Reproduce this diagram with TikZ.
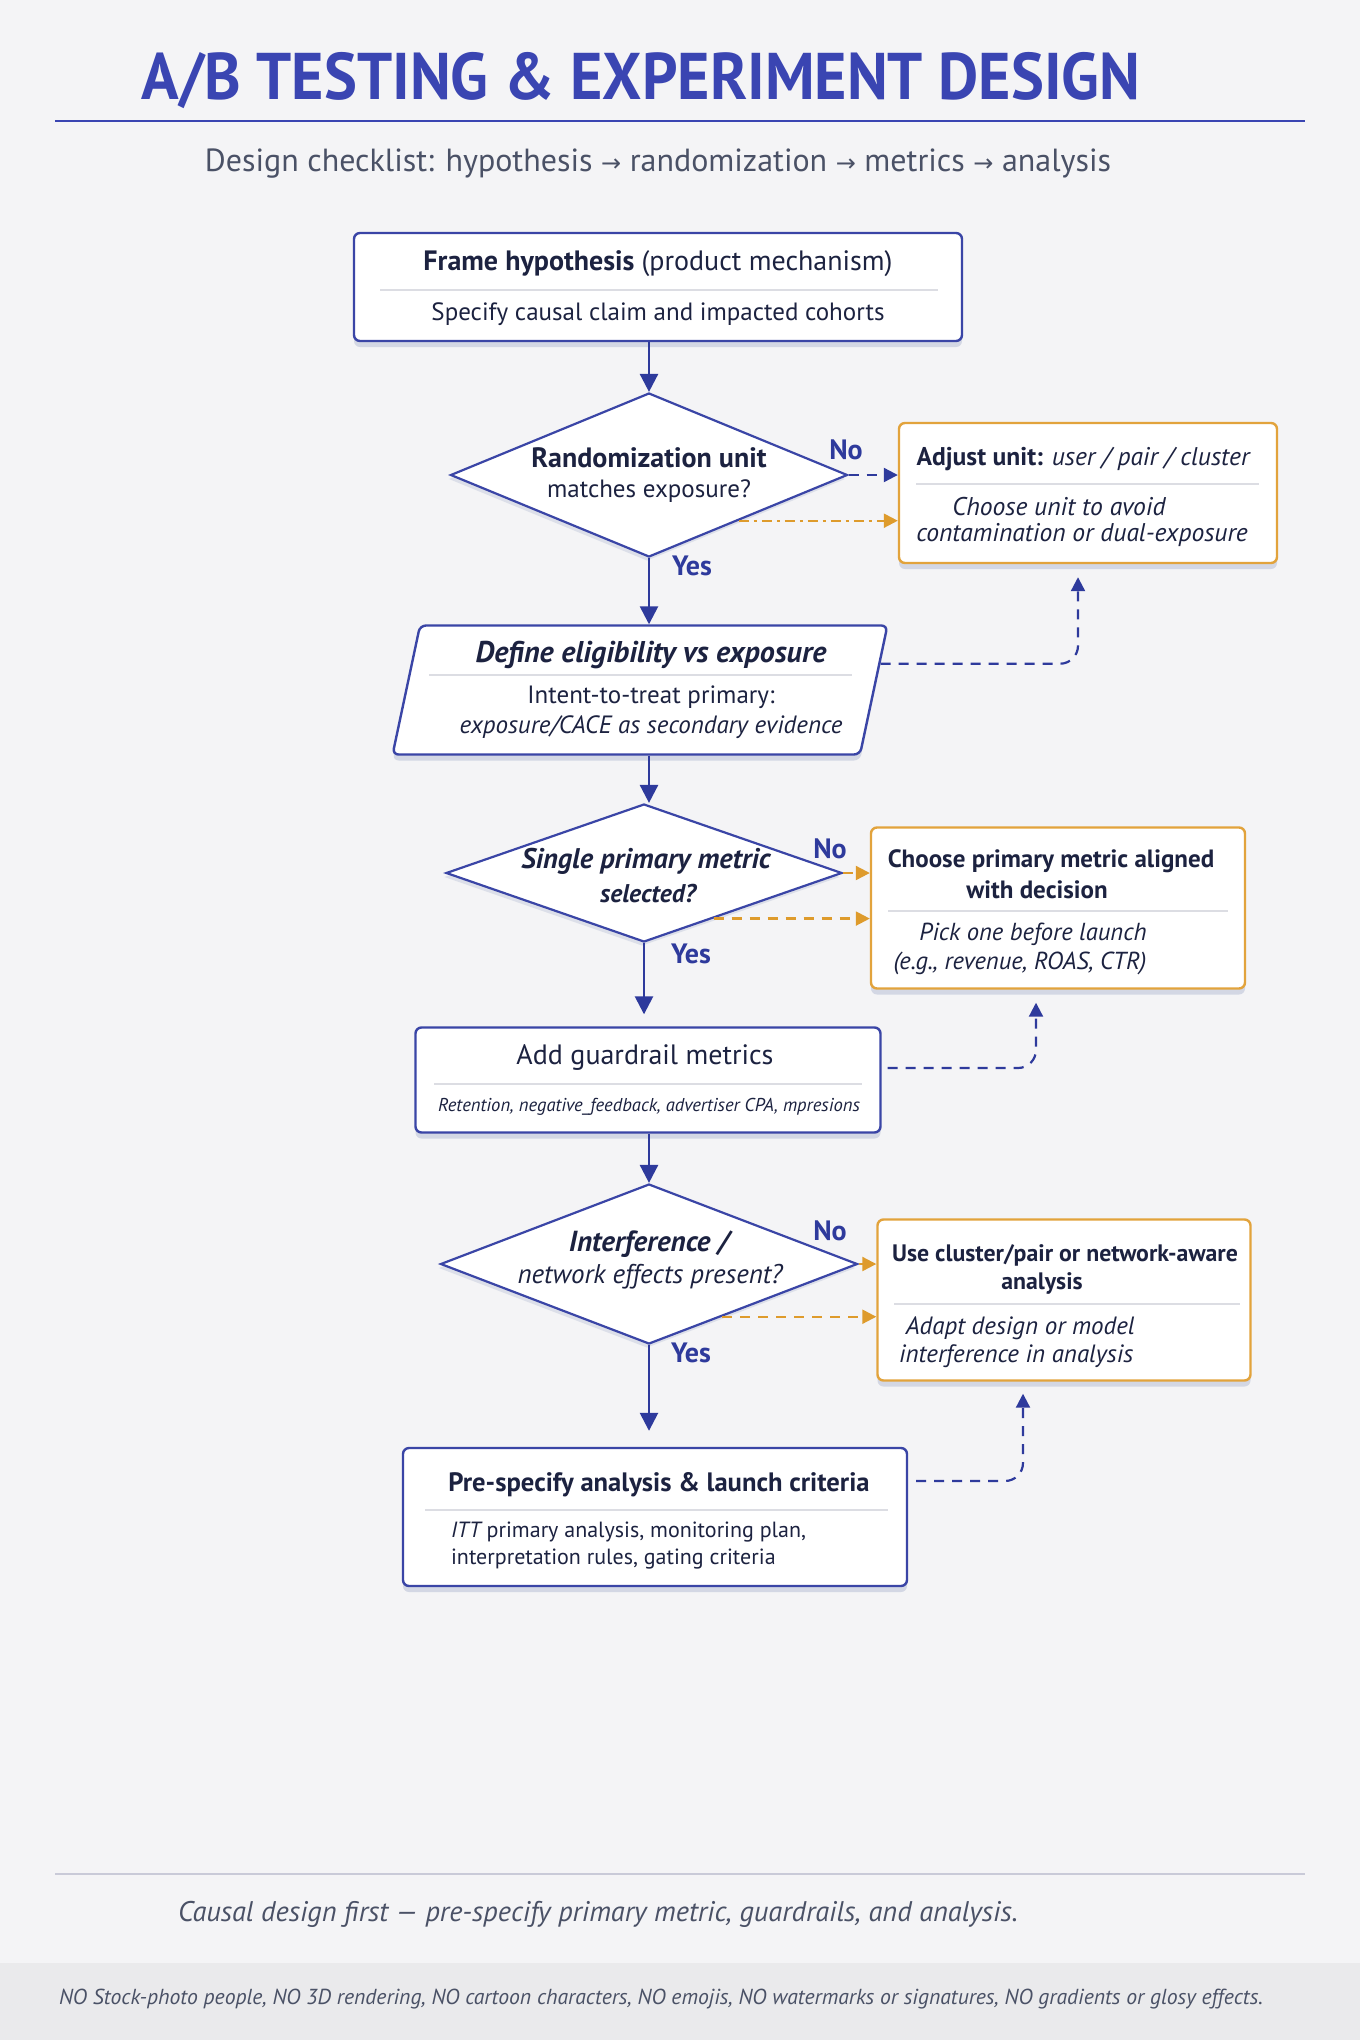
\documentclass[tikz,border=0pt]{standalone}
\usepackage{fontspec}
\setmainfont{PT Sans}
\newfontfamily\arrowfont{DejaVu Sans}
\usetikzlibrary{shapes.geometric,arrows.meta,shadows,calc}

\definecolor{bgpage}{HTML}{F4F4F6}
\definecolor{bgband}{HTML}{EAEAEC}
\definecolor{titleblue}{HTML}{3A45B2}
\definecolor{lineblue}{HTML}{2E3A9C}
\definecolor{boxblue}{HTML}{3A45A6}
\definecolor{textdark}{HTML}{1C2240}
\definecolor{textgray}{HTML}{4A5166}
\definecolor{boxorange}{HTML}{E2A33C}
\definecolor{arroworange}{HTML}{DE9B2C}
\definecolor{sepgray}{HTML}{DCDDE3}
\definecolor{shadowc}{HTML}{D3D7E4}
\definecolor{rulegray}{HTML}{C9CAD8}

\tikzset{
  procbox/.style={draw=boxblue, line width=1.2pt, fill=white, rounded corners=3pt,
    drop shadow={shadow xshift=0pt, shadow yshift=-3pt, fill=shadowc, opacity=1}},
  altbox/.style={procbox, draw=boxorange},
  decision/.style={diamond, draw=boxblue, line width=1.1pt, fill=white, inner sep=0pt,
    drop shadow={shadow xshift=-1pt, shadow yshift=-2pt, fill=shadowc, opacity=.7}},
  ioshape/.style={trapezium, trapezium left angle=78, trapezium right angle=102, procbox,
    inner sep=0pt, text width=220pt, text height=32.25pt, text depth=32.25pt},
  ttl/.style={text=textdark, font=\bfseries\fontsize{14}{16}\selectfont},
  sub/.style={text=textdark, font=\fontsize{12.5}{15}\selectfont},
  sepline/.style={draw=sepgray, line width=0.8pt},
  flow/.style={draw=lineblue, line width=1.3pt, -{Triangle[length=9pt,width=9pt]}},
  fbline/.style={draw=lineblue, line width=1.1pt, dashed, dash pattern=on 5pt off 4pt,
    rounded corners=9pt, -{Triangle[length=7pt,width=7pt]}},
  noline/.style={fbline, draw=arroworange},
  ansl/.style={text=lineblue, font=\bfseries\fontsize{14}{16}\selectfont},
}

\begin{document}
\begin{tikzpicture}[x=0.5pt, y=-0.5pt]
  % page
  \fill[bgpage] (0,0) rectangle (1360,2040);
  \useasboundingbox (0,0) rectangle (1360,2040);
  \fill[bgband] (0,1963) rectangle (1360,2040);

  % heading
  \node[text=titleblue, font=\bfseries\fontsize{33}{36}\selectfont] (title) at (641,81)
    {\scalebox{0.94}[1]{A/B TESTING \& EXPERIMENT DESIGN}};
  \draw[titleblue, line width=1.3pt] (55,121) -- (1305,121);
  \node[text=textgray, font=\fontsize{16}{19}\selectfont] (subtitle) at (658,164)
    {Design checklist: hypothesis {\arrowfont\fontsize{12}{12}\selectfont →} randomization
     {\arrowfont\fontsize{12}{12}\selectfont →} metrics {\arrowfont\fontsize{12}{12}\selectfont →} analysis};

  % main column
  \node[procbox, minimum width=304pt, minimum height=54pt] (hyp) at (658,287) {};
  \node[ttl] (hypt) at (658,264) {Frame hypothesis \mdseries(product mechanism)};
  \draw[sepline] (380,290) -- (938,290);
  \node[sub] (hyps) at (658,314) {Specify causal claim and impacted cohorts};

  \node[decision, minimum width=198.5pt, minimum height=82pt] (unit) at (649,475) {};
  \node[ttl] (unitt) at (649,458) {Randomization unit};
  \node[sub] (units) at (649,491) {matches exposure?};

  \node[ioshape] (elig) at (640,690) {};
  \node[ttl, font=\bfseries\itshape\fontsize{15}{17}\selectfont] (eligt) at (651,655) {Define eligibility vs exposure};
  \draw[sepline] (429,675) -- (852,675);
  \node[sub, align=center] (eligs) at (651,712)
    {Intent-to-treat primary:\\ \itshape exposure/CACE as secondary evidence};

  \node[decision, minimum width=198pt, minimum height=69pt] (metric) at (644,873) {};
  \node[ttl, font=\bfseries\itshape\fontsize{14.2}{17}\selectfont] (metrict) at (646,861) {Single primary metric};
  \node[ttl, font=\bfseries\itshape\fontsize{12.8}{15}\selectfont] (metrics) at (648,894) {selected?};

  \node[procbox, minimum width=232.5pt, minimum height=52.5pt] (guard) at (648,1080) {};
  \node[sub, font=\fontsize{14}{16}\selectfont] (guardt) at (645,1057) {Add guardrail metrics};
  \draw[sepline] (434,1084) -- (862,1084);
  \node[sub, font=\itshape\fontsize{9.3}{11}\selectfont] (guards) at (649,1107)
    {Retention, negative\_feedback, advertiser CPA, mpresions};

  \node[decision, minimum width=208.5pt, minimum height=80pt] (inter) at (649,1264) {};
  \node[ttl, font=\bfseries\itshape\fontsize{14.5}{16}\selectfont] (intert) at (649,1244) {Interference /};
  \node[sub, font=\itshape\fontsize{13.5}{15}\selectfont] (inters) at (650,1277) {network effects present?};

  \node[procbox, minimum width=252pt, minimum height=69pt] (plan) at (655,1517) {};
  \node[ttl, font=\bfseries\fontsize{13.3}{15}\selectfont] (plant) at (659,1485) {Pre-specify analysis \& launch criteria};
  \draw[sepline] (425,1510) -- (888,1510);
  \node[sub, font=\fontsize{11}{13.5}\selectfont, align=left, anchor=west] (plans) at (444,1546)
    {\itshape ITT\upshape{} primary analysis, monitoring plan,\\ interpretation rules, gating criteria};

  % side boxes
  \node[altbox, minimum width=189pt, minimum height=70pt] (adj) at (1088,493) {};
  \node[ttl, font=\bfseries\fontsize{12.8}{15}\selectfont] (adjt) at (1083,459) {Adjust unit: \mdseries\itshape user / pair / cluster};
  \draw[sepline] (916,484) -- (1259,484);
  \node[sub, font=\itshape\fontsize{12.8}{15}\selectfont] (adjs) at (1059,507) {Choose unit to avoid};
  \node[sub, font=\itshape\fontsize{12.8}{15}\selectfont] (adjs2) at (1082,535) {contamination or dual-exposure};

  \node[altbox, minimum width=187pt, minimum height=80.5pt] (pick) at (1058,908) {};
  \node[ttl, font=\bfseries\fontsize{12.5}{14.5}\selectfont] (pickt) at (1051,861) {Choose primary metric aligned};
  \node[ttl, font=\bfseries\fontsize{12.5}{14.5}\selectfont] (pickt2) at (1037,890) {with decision};
  \draw[sepline] (888,911) -- (1228,911);
  \node[sub, font=\itshape\fontsize{12.3}{14.5}\selectfont] (picks) at (1033,934) {Pick one before launch};
  \node[sub, font=\itshape\fontsize{12.3}{14.5}\selectfont] (picks2) at (1020,963) {(e.g., revenue, ROAS, CTR)};

  \node[altbox, minimum width=186.5pt, minimum height=80.5pt] (clus) at (1064,1300) {};
  \node[ttl, font=\bfseries\fontsize{11.9}{14}\selectfont] (clust) at (1065,1255) {Use cluster/pair or network-aware};
  \node[ttl, font=\bfseries\fontsize{11.9}{14}\selectfont] (clust2) at (1042,1283) {analysis};
  \draw[sepline] (894,1304) -- (1240,1304);
  \node[sub, font=\itshape\fontsize{12.5}{14}\selectfont, align=left, anchor=west] (cluss) at (892,1342)
    {\ Adapt design or model\\ interference in analysis};

  % main flow
  \draw[flow] (hyp.south -| unit.north) -- (unit.north);
  \draw[flow] (unit.south) -- (unit.south |- elig.north);
  \draw[flow] (unit.south |- elig.south) -- (metric.north -| unit.south);
  \draw[flow, shorten >=6pt] (metric.south) -- (metric.south |- guard.north);
  \draw[flow] (guard.south -| inter.north) -- (inter.north);
  \draw[flow, shorten >=8pt] (inter.south) -- (inter.south |- plan.north);

  % No branches
  \coordinate (unitlo) at ($(unit.east)!0.55!(unit.south)$);
  \coordinate (metriclo) at ($(metric.east)!0.65!(metric.south)$);
  \coordinate (interlo) at ($(inter.east)!0.65!(inter.south)$);
  \draw[fbline] (unit.east) -- (unit.east -| adj.west);
  \draw[noline, dash pattern=on 5pt off 2.5pt on 1.5pt off 2.5pt] (unitlo) -- (unitlo -| adj.west);
  \draw[noline] (metric.east) -- (metric.east -| pick.west);
  \draw[noline] (metriclo) -- (metriclo -| pick.west);
  \draw[noline] (inter.east) -- (inter.east -| clus.west);
  \draw[noline] (interlo) -- (interlo -| clus.west);

  % feedback links
  \draw[fbline] ($(elig.top right corner)!0.3!(elig.bottom right corner)$)
    -| ([xshift=-5pt, yshift=-6.5pt]adj.south);
  \draw[fbline] ([xshift=3pt, yshift=6pt]guard.east) -| ([xshift=-11pt, yshift=-6.5pt]pick.south);
  \draw[fbline] ([xshift=4pt, yshift=18pt]plan.east) -| ([xshift=-20.5pt, yshift=-6pt]clus.south);

  % answers
  \node[ansl] (no1) at (846,450) {No};
  \node[ansl] (yes1) at (692,566) {Yes};
  \node[ansl] (no2) at (830,849) {No};
  \node[ansl] (yes2) at (691,954) {Yes};
  \node[ansl] (no3) at (830,1231) {No};
  \node[ansl] (yes3) at (691,1353) {Yes};

  % footer
  \draw[rulegray, line width=1pt] (55,1874) -- (1305,1874);
  \node[text=textgray, font=\itshape\fontsize{14.2}{16}\selectfont] (foot) at (598,1914)
    {Causal design first — pre-specify primary metric, guardrails, and analysis.};
  \node[text=textgray, font=\itshape\fontsize{10.85}{12}\selectfont, anchor=west] (note) at (52,1999)
    {NO Stock-photo people, NO 3D rendering, NO cartoon characters, NO emojis, NO watermarks or signatures, NO gradients or glosy effects.};
\end{tikzpicture}
\end{document}
